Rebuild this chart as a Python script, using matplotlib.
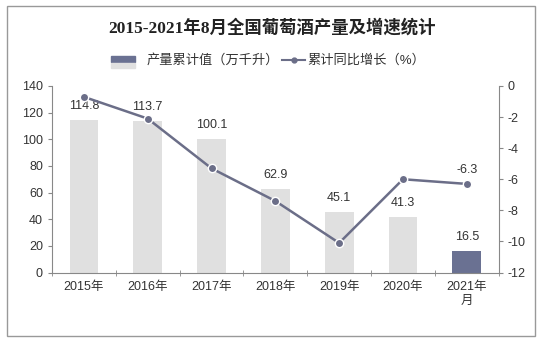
import matplotlib
matplotlib.use("Agg")
import matplotlib.pyplot as plt
from matplotlib.patches import Rectangle
import numpy as np

plt.rcParams['font.family'] = ['Liberation Sans', 'Noto Sans CJK SC']
plt.rcParams['axes.unicode_minus'] = False

categories = ["2015年", "2016年", "2017年", "2018年", "2019年", "2020年", "2021年\n月"]
production = [114.8, 113.7, 100.1, 62.9, 45.1, 41.3, 16.5]
growth = [-0.7, -2.1, -5.3, -7.4, -10.1, -6.0, -6.3]
bar_colors = ["#e0e0e0"] * 6 + ["#6a7192"]
line_color = "#6b6e88"

fig = plt.figure(figsize=(5.44, 3.40), dpi=100)
W, H = 544, 340
ax = fig.add_axes([52 / W, 1 - 272.5 / H, (498.7 - 52) / W, (272.5 - 86) / H])
ax2 = ax.twinx()

x = np.arange(len(categories))
ax.bar(x, production, width=0.45, color=bar_colors, zorder=2)
for xi, v in zip(x, production):
    ax.text(xi, v + 6, f"{v}", ha="center", va="bottom", fontsize=9, color="#333333")

ax.set_xlim(-0.5, len(categories) - 0.5)
ax.set_ylim(0, 140)
ax.set_yticks(range(0, 141, 20))
ax.set_xticks(x)
ax.set_xticklabels(categories, fontsize=9, color="#333333")
ax.set_xticks(np.arange(-0.5, len(categories), 1), minor=True)
ax.tick_params(axis="x", which="major", length=0, pad=6)
ax.tick_params(axis="x", which="minor", length=4, direction="inout", color="#888888")
ax.tick_params(axis="y", labelsize=9, colors="#333333", length=3, color="#888888")
for s in ["top", "right"]:
    ax.spines[s].set_visible(False)
ax.spines["left"].set_color("#888888")
ax.spines["bottom"].set_color("#888888")

ax2.plot(x, growth, color=line_color, lw=1.8, marker="o", markersize=6,
         markerfacecolor=line_color, markeredgecolor="white", markeredgewidth=1.0, zorder=3)
ax2.set_ylim(-12, 0)
ax2.set_yticks(range(-12, 1, 2))
ax2.tick_params(axis="y", labelsize=9, colors="#333333", length=3, color="#888888")
for s in ["top", "left", "bottom"]:
    ax2.spines[s].set_visible(False)
ax2.spines["right"].set_color("#888888")
ax2.text(x[-1], growth[-1] + 0.5, f"{growth[-1]}", ha="center", va="bottom",
         fontsize=9, color="#333333")

# title and legend
fig.text(0.5, 1 - 28 / H, "2015-2021年8月全国葡萄酒产量及增速统计", ha="center", va="center",
         fontsize=12.5, fontweight="bold", color="#222222",
         family=['Liberation Serif', 'Noto Sans CJK SC'])
fig.patches.append(Rectangle((111 / W, 1 - 62 / H), 24 / W, 6 / H, transform=fig.transFigure,
                             color="#6a7192"))
fig.patches.append(Rectangle((111 / W, 1 - 68 / H), 24 / W, 5 / H, transform=fig.transFigure,
                             color="#e0e0e0"))
fig.text(147 / W, 1 - 60 / H, "产量累计值（万千升）", ha="left", va="center", fontsize=9.5,
         color="#333333")
fig.add_artist(plt.Line2D([282 / W, 305 / W], [1 - 60 / H, 1 - 60 / H], color=line_color, lw=1.5,
                          transform=fig.transFigure))
fig.add_artist(plt.Line2D([293.5 / W], [1 - 60 / H], marker="o", markersize=3.5, color=line_color,
                          transform=fig.transFigure))
fig.text(307 / W, 1 - 60 / H, "累计同比增长（%）", ha="left", va="center", fontsize=9.5,
         color="#333333")

fig.patches.append(Rectangle((7 / W, 1 - 336 / H), (535 - 7) / W, (336 - 6) / H,
                             transform=fig.transFigure, fill=False, edgecolor="#999999", lw=1))

fig.savefig("out.png", dpi=100, facecolor="white")
